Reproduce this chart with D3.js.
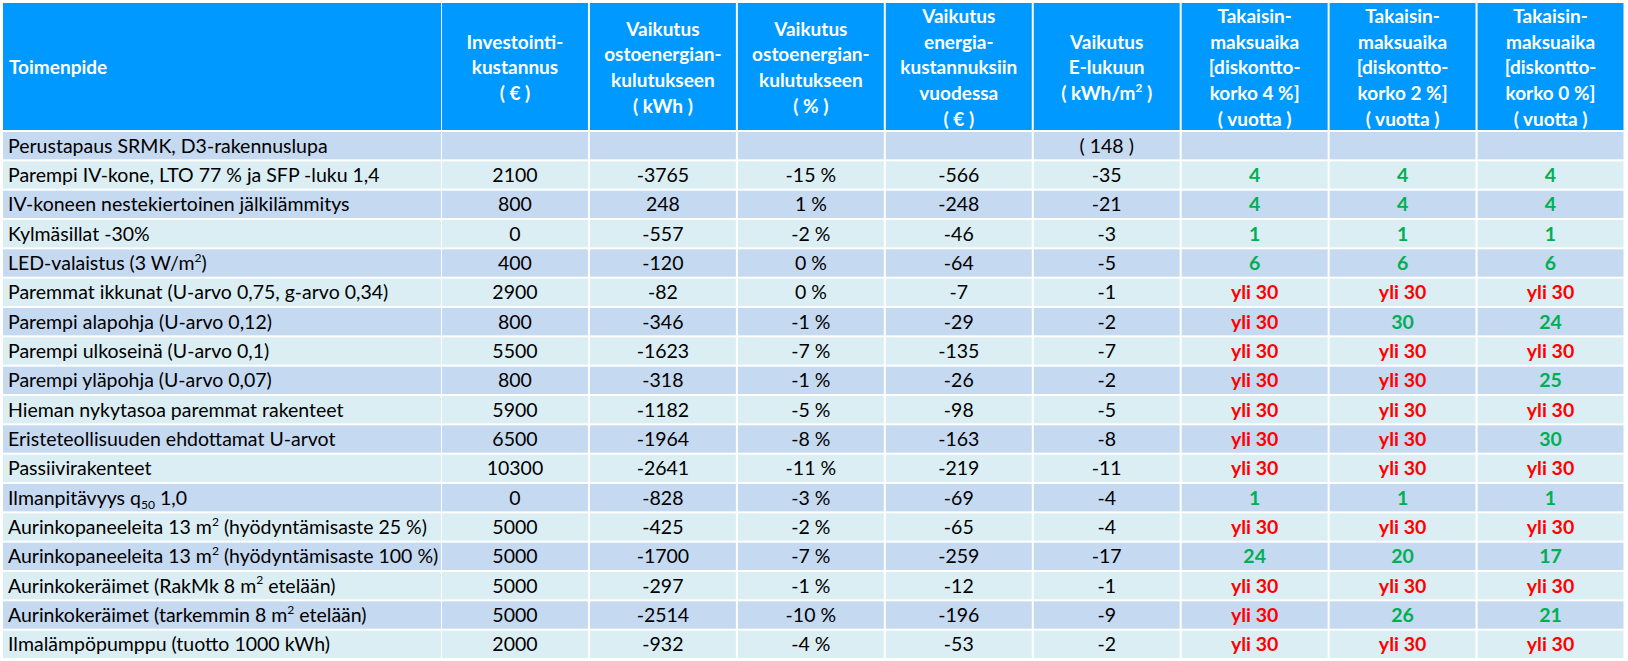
<!DOCTYPE html>
<html><head><meta charset="utf-8">
<script src="https://cdn.jsdelivr.net/npm/d3@7"></script>
<style>
html,body{margin:0;padding:0;background:#fff;}
svg{display:block;}
</style></head>
<body>
<svg id="chart" width="1628" height="661"></svg>
<script>
// ---- data ----
const measures = [
  "Perustapaus SRMK, D3-rakennuslupa",
  "Parempi IV-kone, LTO 77 % ja SFP -luku 1,4",
  "IV-koneen nestekiertoinen jälkilämmitys",
  "Kylmäsillat -30%",
  "LED-valaistus (3 W/m^2)",
  "Paremmat ikkunat (U-arvo 0,75, g-arvo 0,34)",
  "Parempi alapohja (U-arvo 0,12)",
  "Parempi ulkoseinä (U-arvo 0,1)",
  "Parempi yläpohja (U-arvo 0,07)",
  "Hieman nykytasoa paremmat rakenteet",
  "Eristeteollisuuden ehdottamat U-arvot",
  "Passiivirakenteet",
  "Ilmanpitävyys q_50 1,0",
  "Aurinkopaneeleita 13 m^2 (hyödyntämisaste 25 %)",
  "Aurinkopaneeleita 13 m^2 (hyödyntämisaste 100 %)",
  "Aurinkokeräimet (RakMk 8 m^2 etelään)",
  "Aurinkokeräimet (tarkemmin 8 m^2 etelään)",
  "Ilmalämpöpumppu (tuotto 1000 kWh)"
];
const investment = ["", "2100", "800", "0", "400", "2900", "800", "5500", "800", "5900", "6500", "10300", "0", "5000", "5000", "5000", "5000", "2000"];
const energyKwh  = ["", "-3765", "248", "-557", "-120", "-82", "-346", "-1623", "-318", "-1182", "-1964", "-2641", "-828", "-425", "-1700", "-297", "-2514", "-932"];
const energyPct  = ["", "-15 %", "1 %", "-2 %", "0 %", "0 %", "-1 %", "-7 %", "-1 %", "-5 %", "-8 %", "-11 %", "-3 %", "-2 %", "-7 %", "-1 %", "-10 %", "-4 %"];
const costEur    = ["", "-566", "-248", "-46", "-64", "-7", "-29", "-135", "-26", "-98", "-163", "-219", "-69", "-65", "-259", "-12", "-196", "-53"];
const eLuku      = ["( 148 )", "-35", "-21", "-3", "-5", "-1", "-2", "-7", "-2", "-5", "-8", "-11", "-4", "-4", "-17", "-1", "-9", "-2"];
const payback4   = ["", "4", "4", "1", "6", "yli 30", "yli 30", "yli 30", "yli 30", "yli 30", "yli 30", "yli 30", "1", "yli 30", "24", "yli 30", "yli 30", "yli 30"];
const payback2   = ["", "4", "4", "1", "6", "yli 30", "30", "yli 30", "yli 30", "yli 30", "yli 30", "yli 30", "1", "yli 30", "20", "yli 30", "26", "yli 30"];
const payback0   = ["", "4", "4", "1", "6", "yli 30", "24", "yli 30", "25", "yli 30", "30", "yli 30", "1", "yli 30", "17", "yli 30", "21", "yli 30"];

const headers = [
  ["Toimenpide"],
  ["Investointi-", "kustannus", "( € )"],
  ["Vaikutus", "ostoenergian-", "kulutukseen", "( kWh )"],
  ["Vaikutus", "ostoenergian-", "kulutukseen", "( % )"],
  ["Vaikutus", "energia-", "kustannuksiin", "vuodessa", "( € )"],
  ["Vaikutus", "E-lukuun", "( kWh/m^2 )"],
  ["Takaisin-", "maksuaika", "[diskontto-", "korko 4 %]", "( vuotta )"],
  ["Takaisin-", "maksuaika", "[diskontto-", "korko 2 %]", "( vuotta )"],
  ["Takaisin-", "maksuaika", "[diskontto-", "korko 0 %]", "( vuotta )"]
];

// ---- layout ----
const FONT = "Lato, 'Noto Sans', sans-serif";
const BODY = 19.5, HEAD = 19;
const svg = d3.select("#chart");
const dataCols = [investment, energyKwh, energyPct, costEur, eLuku, payback4, payback2, payback0];
const paybackSet = new Set([5, 6, 7]);

const x0 = 3, x0End = 441;
const xc = d3.scaleBand().domain(d3.range(dataCols.length)).range([441, 1624.5]).paddingInner(0.0135).paddingOuter(0.0068);
const y = d3.scaleBand().domain(d3.range(measures.length)).range([131, 659]).paddingInner(0.068).paddingOuter(0.034);
const headTop = 3, headBottom = 130;

const colRects = [{x: x0, w: x0End - x0}].concat(d3.range(dataCols.length).map(i => ({x: xc(i), w: xc.bandwidth()})));
svg.append("g").selectAll("rect").data(colRects).join("rect")
  .attr("x", d => d.x).attr("y", headTop).attr("width", d => d.w).attr("height", headBottom - headTop)
  .attr("fill", "#0099FF");

function rich(sel, str, size) {
  const parts = str.split(/(\^\d+|_\d+)/).filter(p => p !== "");
  let shifted = 0;
  parts.forEach(p => {
    if (p[0] === "^" || p[0] === "_") {
      const up = p[0] === "^";
      const d = up ? -0.42 * size : 0.22 * size;
      sel.append("tspan").attr("dy", d).attr("font-size", size * 0.62).text(p.slice(1));
      shifted = d;
    } else {
      const t = sel.append("tspan").text(p);
      if (shifted) { t.attr("dy", -shifted); shifted = 0; }
    }
  });
}

const headG = svg.append("g").attr("font-family", FONT).attr("font-weight", "bold").attr("fill", "#fff").attr("font-size", HEAD);
const lineH = 25.8, headMid = 67.5;
headers.forEach((lines, ci) => {
  const cx = ci === 0 ? x0 + 6 : xc(ci - 1) + xc.bandwidth() / 2;
  lines.forEach((ln, li) => {
    const yy = headMid + (li - (lines.length - 1) / 2) * lineH;
    const t = headG.append("text").attr("x", cx).attr("y", yy).attr("dy", "0.36em")
      .attr("text-anchor", ci === 0 ? "start" : "middle");
    rich(t, ln, HEAD);
  });
});

const bodyG = svg.append("g").attr("font-family", FONT).attr("font-size", BODY);
const rowG = bodyG.selectAll("g.row").data(measures).join("g").attr("class", "row");
rowG.selectAll("rect").data((d, i) => colRects.map((c, ci) => ({...c, i, ci}))).join("rect")
  .attr("x", d => d.x).attr("y", d => y(d.i)).attr("width", d => d.w).attr("height", y.bandwidth())
  .attr("fill", d => d.i % 2 === 0 ? "#C5D9F1" : "#DAEEF3");

measures.forEach((m, i) => {
  const t = bodyG.append("text").attr("x", x0 + 5).attr("y", y(i) + y.bandwidth() / 2).attr("dy", "0.36em").attr("fill", "#000");
  rich(t, m, BODY);
  dataCols.forEach((col, ci) => {
    const v = col[i];
    if (v === "") return;
    const pb = paybackSet.has(ci);
    bodyG.append("text").attr("x", xc(ci) + xc.bandwidth() / 2).attr("y", y(i) + y.bandwidth() / 2).attr("dy", "0.36em")
      .attr("text-anchor", "middle")
      .attr("font-weight", pb ? "bold" : "normal")
      .attr("fill", pb ? (v.startsWith("yli") ? "#FF0000" : "#00B050") : "#000")
      .text(v);
  });
});
</script>
</body></html>
